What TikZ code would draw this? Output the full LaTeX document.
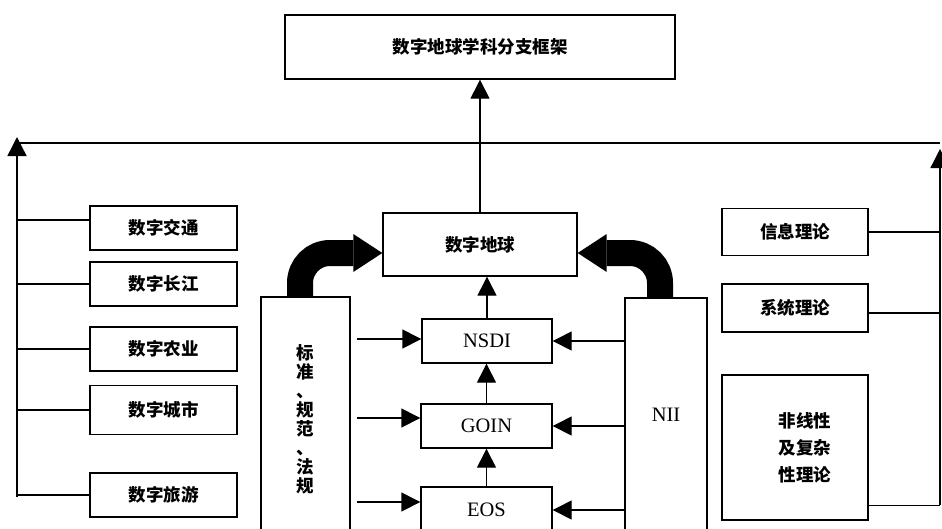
\documentclass[tikz,border=0pt]{standalone}
\usepackage{fontspec}
\setmainfont{Liberation Serif}
\newfontfamily\cjk{Noto Sans CJK SC}
\usetikzlibrary{arrows.meta}
\tikzset{
  box/.style={draw, line width=1.4pt, inner sep=0pt, align=center, fill=white},
  zh/.style={font=\cjk\bfseries\fontsize{17.5}{19}\selectfont},
  zhwide/.style={font=\cjk\bfseries\fontsize{17.5}{27}\selectfont},
  en/.style={font=\fontsize{20.5}{22}\selectfont},
  conn/.style={line width=1.4pt},
  tri/.style={-{Triangle[length=19pt,width=19pt]}},
  bigarrow/.style={line width=26pt, rounded corners=30pt, -{Triangle[length=29pt,width=38pt,line width=0pt]}}
}
\begin{document}
\begin{tikzpicture}[x=1pt,y=-1pt]
\clip (0,0) rectangle (942,528);
% central column
\node[box,zh,minimum width=390pt,minimum height=64pt] (top) at (480,47) {数字地球学科分支框架};
\node[box,zh,minimum width=194pt,minimum height=63pt] (earth) at (480,244.5) {数字地球};
\node[box,en,minimum width=130pt,minimum height=44pt] (nsdi) at (487,341) {NSDI};
\node[box,en,minimum width=131pt,minimum height=44pt] (goin) at (486.5,426) {GOIN};
\node[box,en,minimum width=131pt,minimum height=46pt] (eos) at (486.5,510) {EOS};
\node[box,zh,minimum width=89pt,minimum height=244pt] (std) at (305.5,419) {标\\准\\、\\规\\范\\、\\法\\规};
\node[box,en,minimum width=82pt,minimum height=234pt] (nii) at (666,415) {NII};
% left column
\node[box,zh,minimum width=147pt,minimum height=44pt] (jt) at (163.5,228) {数字交通};
\node[box,zh,minimum width=147pt,minimum height=44pt] (cj) at (163.5,284) {数字长江};
\node[box,zh,minimum width=147pt,minimum height=44pt] (ny) at (163.5,349) {数字农业};
\node[box,zh,minimum width=147pt,minimum height=49pt] (cs) at (163.5,410) {数字城市};
\node[box,zh,minimum width=147pt,minimum height=44pt] (ly) at (163.5,495) {数字旅游};
% right column
\node[box,zh,minimum width=146pt,minimum height=47pt] (xx) at (795,232) {信息理论};
\node[box,zh,minimum width=146pt,minimum height=48pt] (xt) at (795,308) {系统理论};
\node[box,zhwide,minimum width=146pt,minimum height=145pt] (fx) at (795,447.5) {\hspace*{20pt}非线性\\\hspace*{20pt}及复杂\\\hspace*{20pt}性理论};
% bus lines
\coordinate (lb) at (17,497);
\coordinate (lt) at (17,137);
\coordinate (rb) at (940,505);
\coordinate (rt) at (940,149);
\coordinate (hl) at (17,143);
\coordinate (hr) at (940,143);
\draw[conn,tri] (lb) -- (lt);
\draw[conn,tri] (rb) -- (rt);
\draw[conn] (hl) -- (hr);
\draw[conn,tri] (earth.north) -- (top.south);
% left branches
\coordinate (jtw) at ([yshift=8pt]jt.west);
\draw[conn] (jtw) -- (jtw -| lb);
\draw[conn] (cj.west) -- (cj.west -| lb);
\draw[conn] (ny.west) -- (ny.west -| lb);
\draw[conn] (cs.west) -- (cs.west -| lb);
\draw[conn] (ly.west) -- (ly.west -| lb);
% right branches
\coordinate (xte) at ([yshift=-5pt]xt.east);
\coordinate (fxe) at ([yshift=15pt]fx.south east);
\draw[conn] (xx.east) -- (xx.east -| rb);
\draw[conn] (xte) -- (xte -| rb);
\draw[conn] (fxe) -- (fxe -| rb);
% vertical chain
\draw[conn,tri] (nsdi.north) -- (nsdi.north |- earth.south);
\draw[conn,tri] (goin.north) -- (goin.north |- nsdi.south);
\draw[conn,tri] (eos.north) -- (eos.north |- goin.south);
% arrows from standards
\coordinate (s1) at (357,339);
\coordinate (s2) at (357,418);
\coordinate (s3) at (357,502);
\draw[conn,tri] (s1) -- (s1 -| nsdi.west);
\draw[conn,tri] (s2) -- (s2 -| goin.west);
\draw[conn,tri] (s3) -- (s3 -| eos.west);
% arrows from NII
\draw[conn,tri] (nii.west |- nsdi.east) -- (nsdi.east);
\draw[conn,tri] (nii.west |- goin.east) -- (goin.east);
\draw[conn,tri] (nii.west |- eos.east) -- (eos.east);
% big curved arrows
\draw[bigarrow] ([xshift=-5.5pt]std.north) |- ([yshift=-8.5pt]earth.west);
\draw[bigarrow] ([xshift=-6pt]nii.north) |- ([yshift=-8.5pt]earth.east);
\end{tikzpicture}
\end{document}
